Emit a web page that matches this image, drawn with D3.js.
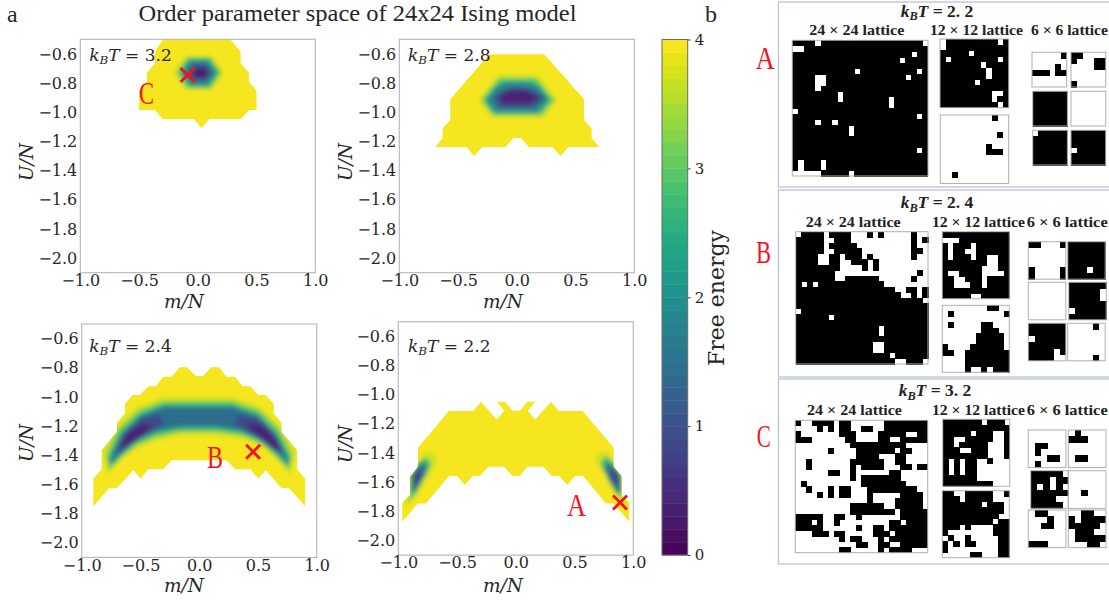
<!DOCTYPE html>
<html><head><meta charset="utf-8">
<script src="https://cdn.jsdelivr.net/npm/d3@7"></script>
<style>
html,body{margin:0;padding:0;background:#fff;overflow:hidden}
svg{display:block}
</style></head><body><div id="chart"></div>
<script>
// ---------- DATA ----------
const chartTitle = "Order parameter space of 24x24 Ising model";
const xTicks = [-1, -0.5, 0, 0.5, 1];
const yTicks = [-2, -1.8, -1.6, -1.4, -1.2, -1, -0.8, -0.6];
const cbarTicks = [0, 1, 2, 3, 4];
const temperatures = ["3.2", "2.8", "2.4", "2.2"];

// support of the free-energy surface (level 4 boundary), [m/N, U/N]
const outlineT32 = [[-.294,-.5],[.274,-.5],[.365,-.585],[.365,-.665],[.435,-.73],[.435,-.79],[.5,-.852],[.5,-.984],[.438,-.984],[.365,-1.046],[.098,-1.046],[.033,-1.11],[-.033,-1.046],[-.3,-1.046],[-.365,-.984],[-.5,-.984],[-.5,-.852],[-.433,-.79],[-.433,-.73],[-.365,-.665],[-.365,-.585]];
const outlineT28 = [[-.234,-.603],[.234,-.603],[.572,-.911],[.572,-1.053],[.637,-1.11],[.637,-1.179],[.702,-1.238],[.438,-1.238],[.373,-1.302],[.305,-1.238],[.103,-1.238],[.035,-1.176],[-.03,-1.176],[-.095,-1.238],[-.294,-1.238],[-.365,-1.302],[-.427,-1.238],[-.696,-1.238],[-.631,-1.179],[-.631,-1.11],[-.566,-1.053],[-.566,-.911]];
const outlineT24 = [[-.901,-1.749],[-.901,-1.559],[-.83,-1.495],[-.83,-1.365],[-.7,-1.239],[-.7,-1.177],[-.632,-1.113],[-.632,-1.049],[-.569,-.987],[-.504,-.987],[-.433,-.926],[-.368,-.926],[-.306,-.862],[-.235,-.862],[-.164,-.797],[-.102,-.797],[-.031,-.857],[.034,-.857],[.099,-.797],[.17,-.797],[.232,-.862],[.306,-.862],[.368,-.926],[.436,-.926],[.501,-.987],[.567,-.987],[.635,-1.049],[.635,-1.113],[.7,-1.177],[.7,-1.239],[.833,-1.365],[.833,-1.495],[.901,-1.559],[.901,-1.749],[.765,-1.624],[.7,-1.624],[.567,-1.502],[.501,-1.559],[.436,-1.495],[.306,-1.495],[.232,-1.434],[-.235,-1.434],[-.306,-1.495],[-.433,-1.495],[-.498,-1.559],[-.56,-1.502],[-.7,-1.624],[-.765,-1.624]];
const outlineT22 = [[-.966,-1.871],[-.966,-1.741],[-.901,-1.689],[-.901,-1.563],[-.833,-1.494],[-.833,-1.364],[-.569,-1.113],[-.362,-1.113],[-.296,-1.049],[-.163,-1.17],[-.098,-1.11],[-.163,-1.049],[-.092,-1.049],[-.027,-1.11],[.035,-1.11],[.098,-1.049],[.166,-1.049],[.101,-1.11],[.166,-1.17],[.299,-1.049],[.365,-1.113],[.569,-1.113],[.833,-1.364],[.833,-1.494],[.901,-1.558],[.901,-1.689],[.966,-1.741],[.966,-1.871],[.833,-1.746],[.767,-1.746],[.574,-1.558],[.504,-1.558],[.438,-1.62],[.37,-1.558],[.305,-1.558],[.234,-1.494],[.098,-1.494],[.035,-1.558],[-.03,-1.558],[-.098,-1.494],[-.234,-1.494],[-.305,-1.558],[-.367,-1.558],[-.433,-1.62],[-.498,-1.558],[-.569,-1.558],[-.765,-1.746],[-.833,-1.746]];

// free-energy contours: [level, polygon]
const contoursT32 = [
 [3.7, [[-.209,-.728],[-.10,-.619],[.118,-.619],[.211,-.728],[.118,-.843],[-.11,-.843]]],
 [3.0, [[-.18,-.728],[-.09,-.625],[.11,-.625],[.2,-.728],[.11,-.835],[-.09,-.835]]],
 [2.0, [[-.15,-.728],[-.07,-.64],[.09,-.64],[.17,-.728],[.09,-.82],[-.07,-.82]]],
 [1.0, [[-.09,-.728],[-.04,-.665],[.07,-.665],[.13,-.728],[.07,-.79],[-.04,-.79]]],
 [0.3, [[-.05,-.73],[0,-.695],[.05,-.695],[.09,-.728],[.05,-.765],[0,-.765]]]
];
const contoursT28 = [
 [3.7, [[-.328,-.916],[-.157,-.745],[.174,-.745],[.345,-.916],[.226,-1.035],[-.214,-1.035]]],
 [3.0, [[-.30,-.916],[-.15,-.765],[.165,-.765],[.32,-.916],[.21,-1.02],[-.2,-1.02]]],
 [2.0, [[-.271,-.916],[-.18,-.82],[-.1,-.79],[.11,-.79],[.19,-.82],[.282,-.916],[.183,-1.003],[-.2,-1.003]]],
 [1.0, [[-.21,-.90],[-.14,-.85],[-.05,-.825],[.07,-.825],[.16,-.85],[.25,-.90],[.15,-.975],[-.16,-.975]]],
 [0.4, [[-.16,-.90],[-.06,-.85],[.08,-.85],[.19,-.90],[.1,-.945],[-.11,-.945]]]
];
const contoursT24 = [
 [3.7, [[-.773,-1.537],[-.822,-1.365],[-.703,-1.205],[-.518,-1.067],[-.306,-1.006],[.289,-1.006],[.516,-1.067],[.686,-1.205],[.822,-1.365],[.771,-1.537],[.671,-1.434],[.544,-1.342],[.374,-1.285],[.147,-1.262],[-.164,-1.262],[-.363,-1.296],[-.533,-1.354],[-.674,-1.434]]],
 [3.0, [[-.79,-1.40],[-.69,-1.22],[-.51,-1.09],[-.30,-1.03],[.28,-1.03],[.51,-1.09],[.68,-1.22],[.79,-1.40],[.77,-1.50],[.66,-1.41],[.53,-1.32],[.37,-1.265],[.15,-1.24],[-.16,-1.24],[-.36,-1.275],[-.53,-1.33],[-.66,-1.41],[-.77,-1.50]]],
 [2.0, [[-.77,-1.42],[-.67,-1.25],[-.50,-1.12],[-.30,-1.056],[.28,-1.056],[.5,-1.12],[.66,-1.25],[.77,-1.42],[.75,-1.47],[.64,-1.38],[.52,-1.30],[.36,-1.24],[.15,-1.216],[-.16,-1.216],[-.36,-1.245],[-.52,-1.30],[-.64,-1.38],[-.75,-1.47]]],
 [1.4, [[-.74,-1.41],[-.65,-1.25],[-.49,-1.13],[-.29,-1.079],[.27,-1.079],[.49,-1.13],[.64,-1.25],[.74,-1.41],[.62,-1.35],[.49,-1.275],[.34,-1.215],[.15,-1.193],[-.16,-1.193],[-.34,-1.215],[-.49,-1.275],[-.62,-1.35]]],
 [0.9, [[-.72,-1.40],[-.64,-1.25],[-.5,-1.155],[-.34,-1.12],[-.30,-1.19],[-.48,-1.27],[-.6,-1.34]]],
 [0.9, [[.34,-1.12],[.5,-1.155],[.64,-1.25],[.72,-1.40],[.6,-1.34],[.48,-1.27],[.30,-1.19]]],
 [0.4, [[-.68,-1.34],[-.6,-1.24],[-.47,-1.185],[-.40,-1.2],[-.5,-1.27],[-.62,-1.33]]],
 [0.4, [[.42,-1.18],[.55,-1.2],[.69,-1.33],[.67,-1.37],[.55,-1.29],[.43,-1.22]]]
];
const contoursT22 = [
 [3.7, [[-.95,-1.72],[-.90,-1.66],[-.84,-1.50],[-.78,-1.40],[-.71,-1.39],[-.66,-1.45],[-.72,-1.52],[-.82,-1.67],[-.89,-1.73],[-.92,-1.78]]],
 [3.7, [[.67,-1.44],[.73,-1.39],[.80,-1.40],[.83,-1.49],[.90,-1.56],[.90,-1.69],[.96,-1.74],[.93,-1.78],[.84,-1.68],[.75,-1.54]]],
 [2.6, [[-.9,-1.73],[-.9,-1.56],[-.83,-1.47],[-.77,-1.43],[-.72,-1.47],[-.77,-1.56],[-.86,-1.68]]],
 [2.6, [[.72,-1.47],[.77,-1.42],[.83,-1.47],[.9,-1.56],[.9,-1.70],[.86,-1.68],[.79,-1.58]]],
 [1.5, [[-.88,-1.66],[-.88,-1.56],[-.81,-1.47],[-.75,-1.5],[-.81,-1.6],[-.86,-1.68]]],
 [1.5, [[.75,-1.5],[.81,-1.47],[.89,-1.56],[.89,-1.67],[.85,-1.66],[.79,-1.58]]],
 [0.7, [[-.87,-1.62],[-.87,-1.54],[-.81,-1.5],[-.81,-1.58]]],
 [0.7, [[.81,-1.5],[.87,-1.55],[.87,-1.63],[.82,-1.58]]]
];

// marked states [m/N, U/N]
const markerT32 = [-.087, -.745];
const markerT24 = [.459, -1.376];
const markerT22 = [.887, -1.739];

// spin lattices: '#' black, '.' white
const latA24 = [
"####.##################.",
"..######################",
"#####################.##",
"###################.####",
"########################",
"###########.##########.#",
"####..##############.###",
"####..##################",
"####.###################",
"########.###############",
"########.########.######",
"#################.######",
".#######################",
"######################.#",
"####.##.################",
"##########.#############",
"##########.#############",
"########################",
"########################",
"######################.#",
"########################",
"#.###.##################",
"#.###.##################",
".....#####.#############"];
const latA12a = [".#########.#",".###########","#####.######","#.########.#","#######.####","########.###","########.###","######.#####","############","#########..#","#########.##","##########.#"];
const latA12b = [".........#..","............","............","..........#.","............","........#...","........###.","............","............","............","..#.........","............"];
const latA6 = [
 [".....#","......","....#.","###.##","......","......"],
 ["##....","#...##","....##","......","......","#....."],
 ["######","######","######","######","######","######"],
 ["......","......","......","......","......","......"],
 [".#####","######","######","######","######","######"],
 ["######","######","######",".#####","######","######"]
];
const latB24 = [
".####.####...#.#.....#..",
"#####..###...........#.#",
"#####.#####..........#..",
"#####..#####.........##.",
"####..##.###.#.......#..",
"####..##..###.#.........",
"########....#.#.........",
"#######...............#.",
"#######..######......#..",
"#.#.############........",
"##################..##.#",
"###################..#.#",
"#######################.",
"########################",
".#######################",
"######.#################",
"########################",
"###############.########",
"###############.########",
"########################",
"##############..########",
"##############..########",
"#################.######",
"##################..###."];
const latB12a = ["############","...#########","#.###.######","#.##..######","#.###.##..##","########..##","#######...##","#..####....#","##..###.####","##...##.####","############","#####..#####"];
const latB12b = ["........##..",".#.........#","............",".#.....##...",".......###..","......#####.","......#####.","#....######.","##..########","....########","....########","....#..#.###"];
const latB6 = [
 ["##...#","......","......","......","#....#","#....#"],
 ["######","######","######","######","###.##","######"],
 ["......","......","......","......","......","......"],
 ["######","#####.","#####.","######",".#####","######"],
 ["######","######",".#####","######","####.#","####.."],
 ["....#.","......","......","......","......","....#."]
];
const latC24 = [
"#..####.##......########",
"....#.#.##..##..########",
"#.......###....#####..##",
"###......##....##..#####",
"..........##########....",
"......#....#######.##...",
"...........####...##....",
"..#.......######..##....",
"..#.......#.####...##.##",
"......##..#......##.....",
"..........#.#######.....",
".#..........########....",
"..#...#.##...#########..",
"....#.#.##...#.....####.",
".............#....#####.",
"..........######..#####.",
"..........########.#####",
"#####..##..#.......#####",
"###.#..#.........##.####",
"#####......#..##.#######",
"...###.##.....###.######",
"........#.##...#.#######",
"...........##..##..#####",
"........##.....#.####..."];
const latC12a = ["#######.###.","############","#####.###..#","##..#####..#","##.#####...#","###..###...#","########...#","#.#.##..#...","#.#.##......","#.#.##......","######......","#########..."];
const latC12b = ["##..#####..#","###.#####...","#######.###.","###########.","##########..","#########.##","###.#....###","#........###",".#..#.....##","#.#.##....##","#.........##",".....##...##"];
const latC6 = [
 ["......","......",".##...",".#....","...##.",".#...."],
 [".#....","###...","......","......",".##...","......"],
 ["#####.","###.##","#.#.#.","######","####..","#####."],
 ["......","......","......","..#...","......","......"],
 [".##...","...#..","..##..","......","......","###..."],
 ["..##..","#.####","#####.",".###..",".#####","...##."]
];

// ---------- LAYOUT ----------
const W = 1109, H = 602;
const serifM = "'DejaVu Serif', serif", serifL = "'Liberation Serif', serif";
const ink = "#262626";
const svg = d3.select("#chart").append("svg").attr("width", W).attr("height", H).attr("viewBox", `0 0 ${W} ${H}`).style("background", "#fff");
const defs = svg.append("defs");
const blur = defs.append("filter").attr("id", "soft").attr("x", "-30%").attr("y", "-30%").attr("width", "160%").attr("height", "160%");
blur.append("feGaussianBlur").attr("stdDeviation", 2);

const color = v => d3.interpolateViridis(v / 4);
const panelW = 235, panelH = 233.4;
const panels = [
 {x: 80.3,  y: 39.3,  T: temperatures[0], outline: outlineT32, contours: contoursT32, marker: markerT32, lx: 33,  ly: 162, xl: 184, xb: 308, tx: 89.3, ty: 60.7},
 {x: 399.3, y: 39.3,  T: temperatures[1], outline: outlineT28, contours: contoursT28, marker: null,      lx: 352, ly: 162, xl: 503, xb: 308, tx: 408,  ty: 60.7},
 {x: 81.7,  y: 324,   T: temperatures[2], outline: outlineT24, contours: contoursT24, marker: markerT24, lx: 33,  ly: 443, xl: 184, xb: 592, tx: 89.3, ty: 351.7},
 {x: 398.3, y: 321.7, T: temperatures[3], outline: outlineT22, contours: contoursT22, marker: markerT22, lx: 352, ly: 444, xl: 503, xb: 592, tx: 408,  ty: 351.7}
];

function kT(g, x, y, value, opts) {
  const t = g.append("text").attr("x", x).attr("y", y).attr("font-family", opts.family).attr("font-size", opts.size)
    .attr("fill", opts.fill || ink).attr("font-weight", opts.weight || "normal").attr("text-anchor", opts.anchor || "start");
  t.append("tspan").attr("font-style", "italic").text("k");
  t.append("tspan").attr("font-style", "italic").attr("font-size", opts.size * .7).attr("dy", opts.size * .22).text("B");
  t.append("tspan").attr("font-style", "italic").attr("dy", -opts.size * .22).text("T");
  t.append("tspan").text(" = " + value);
}

panels.forEach((p, i) => {
  const g = svg.append("g").attr("transform", `translate(${p.x},${p.y})`);
  const xs = d3.scaleLinear().domain([-1, 1]).range([0, panelW]);
  const ys = d3.scaleLinear().domain([-2.1, -0.5]).range([panelH, 0]);
  const line = d3.line().x(d => xs(d[0])).y(d => ys(d[1])).curve(d3.curveLinearClosed);
  const clipId = "clip" + i;
  defs.append("clipPath").attr("id", clipId).append("path").attr("d", line(p.outline));
  g.append("path").attr("d", line(p.outline)).attr("fill", color(3.95));
  const inner = g.append("g").attr("clip-path", `url(#${clipId})`).append("g").attr("filter", "url(#soft)");
  inner.selectAll("path").data(p.contours).join("path").attr("d", d => line(d[1])).attr("fill", d => color(d[0]));
  g.append("rect").attr("width", panelW).attr("height", panelH).attr("fill", "none").attr("stroke", "#b5b5b5").attr("stroke-width", 1.1);
  const ax = g.append("g").attr("transform", `translate(0,${panelH})`).call(d3.axisBottom(xs).tickValues(xTicks).tickSize(0).tickPadding(2).tickFormat(d3.format(".1f")));
  const ay = g.append("g").call(d3.axisLeft(ys).tickValues(yTicks).tickSize(0).tickPadding(3).tickFormat(d3.format(".1f")));
  [ax, ay].forEach(a => { a.select(".domain").remove(); a.selectAll("text").attr("font-family", serifM).attr("font-size", 16).attr("fill", ink); });
  svg.append("text").attr("transform", `translate(${p.lx},${p.ly}) rotate(-90)`).attr("text-anchor", "middle")
    .attr("font-family", serifM).attr("font-style", "italic").attr("font-size", 18.5).attr("fill", ink).text("U/N");
  svg.append("text").attr("x", p.xl).attr("y", p.xb).attr("text-anchor", "middle")
    .attr("font-family", serifM).attr("font-style", "italic").attr("font-size", 18.5).attr("fill", ink).text("m/N");
  kT(svg, p.tx, p.ty, p.T, {family: serifM, size: 17});
  if (p.marker) {
    const cx = xs(p.marker[0]), cy = ys(p.marker[1]), r = 7;
    const sym = g.append("g").attr("transform", `translate(${cx},${cy})`).attr("stroke", "#f5101e").attr("stroke-width", 2.8).attr("fill", "none");
    sym.append("line").attr("x1", -r).attr("y1", -r).attr("x2", r).attr("y2", r);
    sym.append("line").attr("x1", -r).attr("y1", r).attr("x2", r).attr("y2", -r);
  }
});

// colour bar
const cbar = svg.append("g");
const cy = d3.scaleLinear().domain([0, 4]).range([555, 39.5]);
const bands = d3.range(0, 4, 0.1);
cbar.selectAll("rect").data(bands).join("rect").attr("x", 662).attr("width", 25.7)
  .attr("y", d => cy(d + 0.1)).attr("height", d => cy(d) - cy(d + 0.1) + .4).attr("fill", d => color(d + 0.05));
cbar.append("rect").attr("x", 662).attr("y", 39.5).attr("width", 25.7).attr("height", 515.5).attr("fill", "none").attr("stroke", "#6b6b6b").attr("stroke-width", 1);
const cax = cbar.append("g").attr("transform", "translate(687.7,0)").call(d3.axisRight(cy).tickValues(cbarTicks).tickSize(3).tickPadding(4).tickFormat(d3.format("d")));
cax.select(".domain").remove();
cax.selectAll("line").attr("stroke", "#444");
cax.selectAll("text").attr("font-family", serifM).attr("font-size", 15).attr("fill", ink);
svg.append("text").attr("transform", "translate(724,298) rotate(-90)").attr("text-anchor", "middle")
  .attr("font-family", serifM).attr("font-size", 22).attr("fill", ink).text("Free energy");

// headings
svg.append("text").attr("x", 138.5).attr("y", 20.5).attr("font-family", serifL).attr("font-size", 23.5).attr("fill", ink)
  .attr("textLength", 438).attr("lengthAdjust", "spacingAndGlyphs").text(chartTitle);
svg.append("text").attr("x", 7).attr("y", 21.5).attr("font-family", serifL).attr("font-size", 24).attr("fill", ink).text("a");
svg.append("text").attr("x", 705).attr("y", 21.5).attr("font-family", serifL).attr("font-size", 24).attr("fill", ink).text("b");

// red annotations
const redLabels = [
 {t: "C", x: 139, y: 104, w: 15}, {t: "B", x: 207, y: 468.3, w: 16}, {t: "A", x: 567, y: 516, w: 19},
 {t: "A", x: 755.7, y: 69, w: 19}, {t: "B", x: 756, y: 263, w: 15}, {t: "C", x: 756.7, y: 447, w: 14}
];
svg.selectAll("text.red").data(redLabels).join("text").attr("class", "red").attr("x", d => d.x).attr("y", d => d.y)
  .attr("font-family", serifL).attr("font-size", 32).attr("fill", "#f5101e")
  .attr("textLength", d => d.w).attr("lengthAdjust", "spacingAndGlyphs").text(d => d.t);

// panel b
const frames = [[2, 187], [190, 377], [379, 564]];
svg.selectAll("rect.frame").data(frames).join("rect").attr("class", "frame").attr("x", 778.5).attr("y", d => d[0]).attr("width", 340).attr("height", d => d[1] - d[0])
  .attr("fill", "none").attr("stroke", "#b4bfd3").attr("stroke-width", 1.2);

function lattice(rows, x, y, size) {
  const n = rows.length;
  const b = d3.scaleBand().domain(d3.range(n)).range([0, size]);
  const g = svg.append("g").attr("transform", `translate(${x},${y})`);
  const cells = [];
  rows.forEach((r, i) => r.split("").forEach((c, j) => { if (c === "#") cells.push([i, j]); }));
  g.selectAll("rect").data(cells).join("rect").attr("x", d => b(d[1])).attr("y", d => b(d[0]))
    .attr("width", b.bandwidth() + .5).attr("height", b.bandwidth() + .5).attr("fill", "#000").attr("shape-rendering", "crispEdges");
  g.append("rect").attr("width", size).attr("height", size).attr("fill", "none").attr("stroke", "#b0b0b0").attr("stroke-width", 1);
}
lattice(latA24, 792.3, 40.3, 135.7);
lattice(latA12a, 940, 39, 68.7);
lattice(latA12b, 940.3, 115, 68.4);
[[1032,52.3],[1071,52.3],[1032.7,91.3],[1071,91.3],[1032.7,130.3],[1071,130.3]].forEach((q, i) => lattice(latA6[i], q[0], q[1], 34.7));
lattice(latB24, 795.7, 231.7, 132.3);
lattice(latB12a, 942.3, 231.7, 67);
lattice(latB12b, 942.3, 305.3, 67);
[[1028.3,241.7],[1067.7,241.7],[1028.3,282.3],[1068.7,282.3],[1028.3,323.3],[1067.7,323.3]].forEach((q, i) => lattice(latB6[i], q[0], q[1], 37.5));
lattice(latC24, 795.3, 420.3, 132.4);
lattice(latC12a, 942.7, 419.3, 67);
lattice(latC12b, 942.3, 490.7, 67);
[[1028.3,430],[1068.3,430],[1030.7,470.7],[1068.3,470.7],[1028.3,510],[1068.3,510]].forEach((q, i) => lattice(latC6[i], q[0], q[1], 37.6));

const sizeLabels = [
 {t: "24 × 24 lattice", x: 809.3, y: 35, w: 95}, {t: "12 × 12 lattice", x: 930, y: 35, w: 93}, {t: "6 × 6 lattice", x: 1031, y: 35, w: 77},
 {t: "24 × 24 lattice", x: 805.7, y: 227, w: 95}, {t: "12 × 12 lattice", x: 932, y: 227, w: 93}, {t: "6 × 6 lattice", x: 1026.7, y: 227, w: 81},
 {t: "24 × 24 lattice", x: 807, y: 415, w: 95}, {t: "12 × 12 lattice", x: 932, y: 415, w: 93}, {t: "6 × 6 lattice", x: 1026.7, y: 415, w: 81}
];
svg.selectAll("text.size").data(sizeLabels).join("text").attr("class", "size").attr("x", d => d.x).attr("y", d => d.y)
  .attr("font-family", serifL).attr("font-weight", "bold").attr("font-size", 15).attr("fill", "#222")
  .attr("textLength", d => d.w).attr("lengthAdjust", "spacingAndGlyphs").text(d => d.t);
kT(svg, 937, 16.5, "2. 2", {family: serifL, size: 17.5, weight: "bold", anchor: "middle", fill: "#222"});
kT(svg, 937, 208, "2. 4", {family: serifL, size: 17.5, weight: "bold", anchor: "middle", fill: "#222"});
kT(svg, 935, 396, "3. 2", {family: serifL, size: 17.5, weight: "bold", anchor: "middle", fill: "#222"});
</script></body></html>
